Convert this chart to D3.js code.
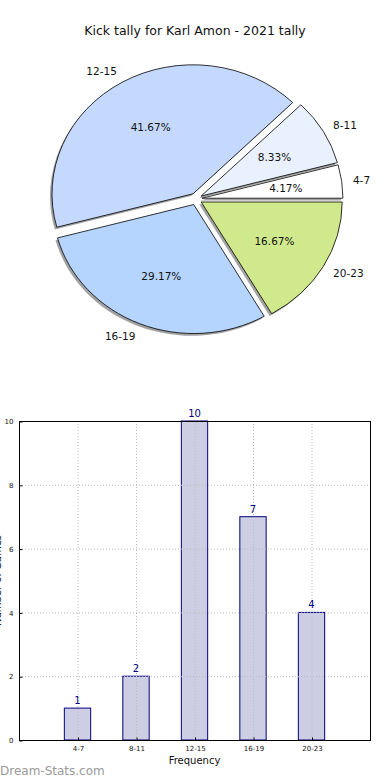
<!DOCTYPE html>
<html>
<head>
<meta charset="utf-8">
<script src="https://cdn.jsdelivr.net/npm/d3@7"></script>
<style>
  body { margin: 0; background: #fff; }
  svg { display: block; font-family: "DejaVu Sans", sans-serif; }
</style>
</head>
<body>
<script>
var categories = ["4-7", "8-11", "12-15", "16-19", "20-23"];
var counts = [1, 2, 10, 7, 4];
var sliceColors = ["#ffffff", "#eaf1fe", "#c5d9fe", "#b5d5fe", "#d0e98c"];
var yTicks = [0, 2, 4, 6, 8, 10];

var svg = d3.select("body").append("svg")
    .attr("width", 390)
    .attr("height", 780);

svg.append("text")
    .attr("x", 195).attr("y", 35)
    .attr("text-anchor", "middle")
    .attr("font-size", 12.5)
    .attr("fill", "#111")
    .text("Kick tally for Karl Amon - 2021 tally");

// pie (matplotlib style: start at 3 o'clock, counter-clockwise, slightly squashed)
var rx = 141, ry = 129, cx = 196, cy = 199, explode = 6;
var total = d3.sum(counts);
var pie = d3.pie().sort(null)
    .startAngle(Math.PI / 2)
    .endAngle(Math.PI / 2 - 2 * Math.PI);
var arcs = pie(counts);
var arc = d3.arc().innerRadius(0).outerRadius(rx);

var pieG = svg.append("g");
arcs.forEach(function(a, i) {
    var mid = (a.startAngle + a.endAngle) / 2; // d3 angle, 0 = up, clockwise
    var dx = Math.sin(mid) * explode, dy = -Math.cos(mid) * explode;
    var g = pieG.append("g")
        .attr("transform", "translate(" + (cx + dx) + "," + (cy + dy) + ") scale(1," + (ry / rx) + ")");
    g.append("path")
        .attr("d", arc(a))
        .attr("transform", "translate(-2,2.5)")
        .attr("fill", "#555").attr("opacity", 0.55);
});
arcs.forEach(function(a, i) {
    var mid = (a.startAngle + a.endAngle) / 2;
    var dx = Math.sin(mid) * explode, dy = -Math.cos(mid) * explode;
    pieG.append("path")
        .attr("d", arc(a))
        .attr("transform", "translate(" + (cx + dx) + "," + (cy + dy) + ") scale(1," + (ry / rx) + ")")
        .attr("fill", sliceColors[i])
        .attr("stroke", "#000")
        .attr("stroke-width", 0.8)
        .attr("vector-effect", "non-scaling-stroke");
    var lx = cx + dx + Math.sin(mid) * rx * 1.08, ly = cy + dy - Math.cos(mid) * ry * 1.1;
    var s = Math.sin(mid);
    pieG.append("text")
        .attr("x", lx).attr("y", ly + 4)
        .attr("text-anchor", s > 0.05 ? "start" : (s < -0.05 ? "end" : "middle"))
        .attr("font-size", 10.5).attr("fill", "#111")
        .text(categories[i]);
    var px = cx + dx + Math.sin(mid) * rx * 0.6, py = cy + dy - Math.cos(mid) * ry * 0.6;
    pieG.append("text")
        .attr("x", px).attr("y", py + 4)
        .attr("text-anchor", "middle")
        .attr("font-size", 10.5).attr("fill", "#111")
        .text((counts[i] / total * 100).toFixed(2) + "%");
});

// bar chart
var bLeft = 19, bRight = 370, bTop = 421, bBottom = 740;
var x = d3.scaleLinear().domain([-1, 5]).range([bLeft, bRight]);
var y = d3.scaleLinear().domain([0, 10]).range([bBottom, bTop]);
var bw = 0.45;

var barG = svg.append("g");
barG.selectAll("rect.bar")
    .data(counts)
    .enter()
        .append("rect")
        .attr("class", "bar")
        .attr("x", function(d, i) { return x(i - bw / 2); })
        .attr("width", function() { return x(bw) - x(0); })
        .attr("y", function(d) { return y(d); })
        .attr("height", function(d) { return bBottom - y(d); })
        .attr("fill", "#cdcde3")
        .attr("stroke", "#00007f")
        .attr("stroke-width", 1);

// grid over bars
barG.selectAll("line.hgrid")
    .data(yTicks.slice(1, -1))
    .enter()
        .append("line")
        .attr("x1", bLeft).attr("x2", bRight)
        .attr("y1", function(d) { return y(d) + 0.5; })
        .attr("y2", function(d) { return y(d) + 0.5; })
        .attr("stroke", "#bbb").attr("stroke-dasharray", "1,2");
barG.selectAll("line.vgrid")
    .data(categories)
    .enter()
        .append("line")
        .attr("x1", function(d, i) { return x(i) + 0.5; })
        .attr("x2", function(d, i) { return x(i) + 0.5; })
        .attr("y1", bTop).attr("y2", bBottom)
        .attr("stroke", "#bbb").attr("stroke-dasharray", "1,2");

barG.selectAll("text.val")
    .data(counts)
    .enter()
        .append("text")
        .attr("x", function(d, i) { return x(i); })
        .attr("y", function(d) { return y(d) - 4; })
        .attr("text-anchor", "middle")
        .attr("font-size", 10)
        .attr("fill", "#00007f")
        .text(function(d) { return d; });

barG.append("rect")
    .attr("x", bLeft + 0.5).attr("y", bTop + 0.5)
    .attr("width", bRight - bLeft).attr("height", bBottom - bTop)
    .attr("fill", "none").attr("stroke", "#000").attr("stroke-width", 1);

var yAxis = d3.axisLeft(y).tickValues(yTicks).tickSize(-3).tickPadding(6);
barG.append("g")
    .attr("transform", "translate(" + (bLeft + 0.5) + ",0.5)")
    .call(yAxis)
    .call(function(g) {
        g.select(".domain").remove();
        g.selectAll("line").attr("stroke", "#000");
        g.selectAll("text").attr("font-size", 7).attr("fill", "#111").attr("font-family", "DejaVu Sans");
    });

var xAxis = d3.axisBottom(x).tickValues(d3.range(categories.length))
    .tickFormat(function(i) { return categories[i]; })
    .tickSize(-3).tickPadding(6);
barG.append("g")
    .attr("transform", "translate(0.5," + (bBottom + 0.5) + ")")
    .call(xAxis)
    .call(function(g) {
        g.select(".domain").remove();
        g.selectAll("line").attr("stroke", "#000");
        g.selectAll("text").attr("font-size", 7).attr("fill", "#111").attr("font-family", "DejaVu Sans");
    });

svg.append("text")
    .attr("x", x(2)).attr("y", 764)
    .attr("text-anchor", "middle")
    .attr("font-size", 10).attr("fill", "#111")
    .text("Frequency");

svg.append("text")
    .attr("transform", "translate(1," + ((bTop + bBottom) / 2) + ") rotate(-90)")
    .attr("text-anchor", "middle")
    .attr("font-size", 10).attr("fill", "#111")
    .text("Number of Games");

svg.append("text")
    .attr("x", 0).attr("y", 775)
    .attr("font-size", 12)
    .attr("fill", "#9a9a9a")
    .text("Dream-Stats.com");
</script>
</body>
</html>
